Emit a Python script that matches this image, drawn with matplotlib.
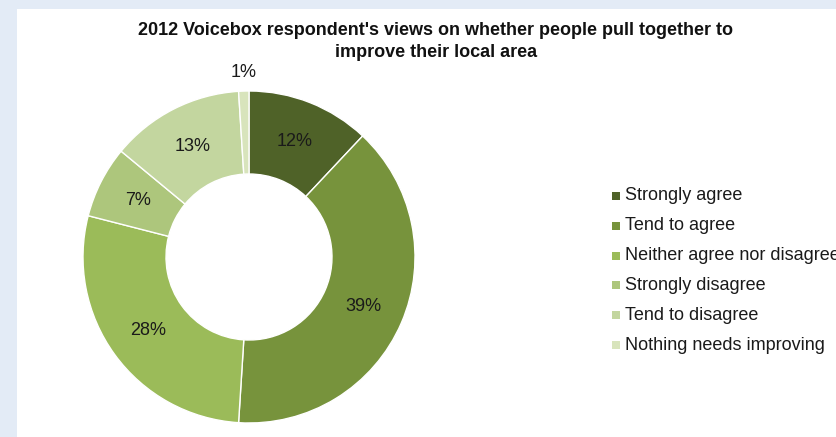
import numpy as np
import matplotlib.pyplot as plt

plt.rcParams['font.family'] = ['Liberation Sans', 'DejaVu Sans']

# survey responses, share of respondents (%)
categories = ["Strongly agree", "Tend to agree", "Neither agree nor disagree",
              "Strongly disagree", "Tend to disagree", "Nothing needs improving"]
shares = [12, 39, 28, 7, 13, 1]
colours = ["#4f6228", "#77933c", "#9bbb59", "#adc67c", "#c3d69f", "#d8e4bc"]

fig = plt.figure(figsize=(8.36, 4.37), dpi=100)
fig.patch.set_facecolor("#e3ebf6")

# white chart panel
panel = fig.add_axes([17 / 836, 0, 1 - 17 / 836, 1 - 9 / 437])
panel.set_facecolor("white")
panel.set_xticks([])
panel.set_yticks([])
for s in panel.spines.values():
    s.set_visible(False)

fig.text(436 / 836, 1 - 41.5 / 437,
         "2012 Voicebox respondent's views on whether people pull together to\nimprove their local area",
         ha="center", va="center", fontsize=13, fontweight="bold", linespacing=1.35,
         color="#111111")

# donut
ax = fig.add_axes([83 / 836, 14 / 437, 332 / 836, 332 / 437])
wedges, _ = ax.pie(shares, colors=colours, startangle=90, counterclock=False,
                   radius=1, wedgeprops=dict(width=0.5, edgecolor="white", linewidth=1))
ax.set_xlim(-1, 1)
ax.set_ylim(-1, 1)
ax.set_aspect("equal")
ax.axis("off")

for w, v in zip(wedges, shares):
    mid = np.deg2rad((w.theta1 + w.theta2) / 2)
    r = 1.11 if v < 3 else 0.75
    ax.text(r * np.cos(mid), r * np.sin(mid), f"{v}%", ha="center", va="center",
            fontsize=13, color="#1a1a1a")

# legend (last label runs past the panel edge)
y0 = 196
for i, (lab, c) in enumerate(zip(categories, colours)):
    y = 1 - (y0 + i * 29.8) / 437
    fig.patches.append(plt.Rectangle((612 / 836, y - 4 / 437), 8 / 836, 8 / 437,
                                     transform=fig.transFigure, facecolor=c,
                                     edgecolor="none"))
    fig.text(625 / 836, y, lab, ha="left", va="center", fontsize=13, color="#1a1a1a")

fig.savefig("out.png", dpi=100)
